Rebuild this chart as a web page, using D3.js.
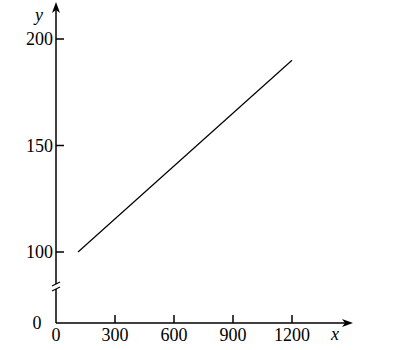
<!DOCTYPE html>
<html>
<head>
<meta charset="utf-8">
<script src="https://cdn.jsdelivr.net/npm/d3@7"></script>
<style>
  body { margin: 0; background: #fff; }
  text { font-family: "Liberation Serif", "Times New Roman", serif; font-size: 18px; fill: #000; }
</style>
</head>
<body>
<div id="chart"></div>
<script>
// data
var xTicks = [300, 600, 900, 1200],
    yTicks = [100, 150, 200],
    lineX = [112, 1200],
    lineY = [100, 190];

var width = 393, height = 350;

var svg = d3.select("#chart").append("svg")
  .attr("width", width)
  .attr("height", height);

// x: 0 at the origin, 300 every 59px
var x = d3.scaleLinear().domain([0, 1200]).range([56, 292]);
// y has a break between 0 and 100
var y = d3.scaleLinear().domain([0, 100, 200]).range([323, 252, 39]);

var ox = x(0), oy = y(0);

// axes
svg.append("line")
  .attr("x1", ox).attr("y1", oy)
  .attr("x2", 346).attr("y2", oy)
  .attr("stroke", "#000").attr("stroke-width", 1.5);
svg.append("path")
  .attr("d", "M353," + oy + " L342," + (oy - 4) + " L345," + oy + " L342," + (oy + 4) + " Z")
  .attr("fill", "#000");

svg.append("line")
  .attr("x1", ox).attr("y1", oy)
  .attr("x2", ox).attr("y2", 289)
  .attr("stroke", "#000").attr("stroke-width", 1.5);
svg.append("line")
  .attr("x1", ox).attr("y1", 284)
  .attr("x2", ox).attr("y2", 10)
  .attr("stroke", "#000").attr("stroke-width", 1.5);
svg.append("path")
  .attr("d", "M" + ox + ",2 L" + (ox - 4) + ",13 L" + ox + ",10 L" + (ox + 4) + ",13 Z")
  .attr("fill", "#000");

// axis break marks
[284, 289].forEach(function(b) {
  svg.append("line")
    .attr("x1", ox - 4).attr("y1", b + 2)
    .attr("x2", ox + 4).attr("y2", b - 2)
    .attr("stroke", "#000").attr("stroke-width", 1.2);
});

// x ticks
svg.selectAll(".xt").data(xTicks).enter().append("line")
  .attr("x1", function(d) { return x(d); })
  .attr("x2", function(d) { return x(d); })
  .attr("y1", oy).attr("y2", oy - 8)
  .attr("stroke", "#000").attr("stroke-width", 1.5);
svg.selectAll(".xl").data([0].concat(xTicks)).enter().append("text")
  .attr("x", function(d) { return x(d); })
  .attr("y", 341)
  .attr("text-anchor", "middle")
  .text(function(d) { return d; });

// y ticks
svg.selectAll(".yt").data(yTicks).enter().append("line")
  .attr("x1", ox).attr("x2", ox + 8)
  .attr("y1", function(d) { return y(d); })
  .attr("y2", function(d) { return y(d); })
  .attr("stroke", "#000").attr("stroke-width", 1.5);
svg.selectAll(".yl").data(yTicks).enter().append("text")
  .attr("x", ox - 3)
  .attr("y", function(d) { return y(d) + 6; })
  .attr("text-anchor", "end")
  .text(function(d) { return d; });
svg.append("text")
  .attr("x", 37).attr("y", oy + 6)
  .attr("text-anchor", "middle")
  .text("0");

// axis names
svg.append("text")
  .attr("x", 39).attr("y", 21)
  .attr("text-anchor", "middle")
  .style("font-style", "italic")
  .text("y");
svg.append("text")
  .attr("x", 335).attr("y", 340)
  .attr("text-anchor", "middle")
  .style("font-style", "italic")
  .text("x");

// the line
var pts = lineX.map(function(d, i) { return [d, lineY[i]]; });
svg.append("path")
  .attr("d", d3.line().x(function(d) { return x(d[0]); }).y(function(d) { return y(d[1]); })(pts))
  .attr("fill", "none")
  .attr("stroke", "#000")
  .attr("stroke-width", 1.2);
</script>
</body>
</html>
